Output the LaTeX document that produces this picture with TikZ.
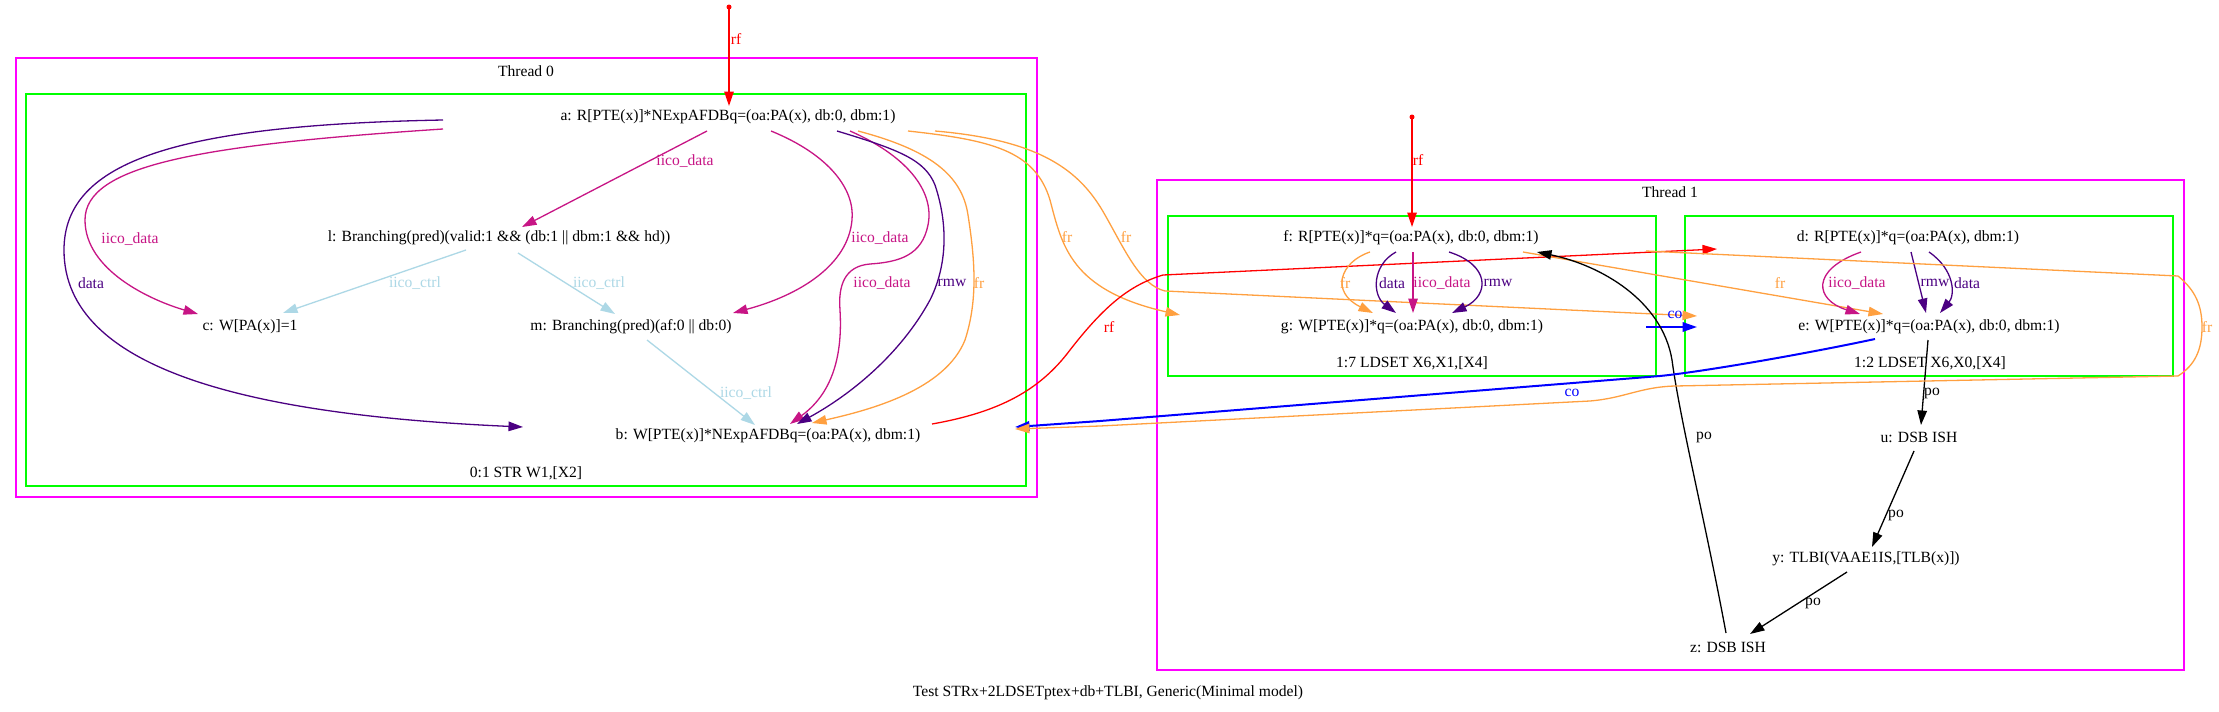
\documentclass[tikz,border=0pt]{standalone}
\usepackage{fontspec}
\setmainfont{Liberation Serif}
\usetikzlibrary{arrows.meta,calc}
\definecolor{ivr}{HTML}{C71585}
\definecolor{ind}{HTML}{4B0082}
\definecolor{frc}{HTML}{FFA040}
\definecolor{ltb}{HTML}{ADD8E6}
\definecolor{mag}{HTML}{FF00FF}
\definecolor{grn}{HTML}{00FF00}
\newcommand\fsz{\fontsize{15.6}{18}\selectfont}
\begin{document}
\begin{tikzpicture}[x=1pt,y=-1pt,
  txt/.style={font=\fsz, inner sep=0pt},
  edgebase/.style={line width=1.3pt, -{Triangle[length=14.5pt,width=9.5pt]}},
  erf/.style={edgebase, draw=red},
  eiicod/.style={edgebase, draw=ivr},
  edata/.style={edgebase, draw=ind},
  efr/.style={edgebase, draw=frc},
  ectrl/.style={edgebase, draw=ltb},
  eco/.style={edgebase, draw=blue, line width=2pt},
  epo/.style={edgebase, draw=black},
  magbox/.style={draw=mag, line width=1.3pt},
  grnbox/.style={draw=grn, line width=1.3pt},
  dotnode/.style={circle, fill=red, inner sep=0pt, minimum size=5pt}
]
\useasboundingbox (0,0) rectangle (2219,712);
\fill[white] (0,0) rectangle (2219,712);

% clusters
\draw[magbox] (16,58) rectangle (1037,497);
\draw[grnbox] (26,94) rectangle (1026,486);
\draw[magbox] (1157,180) rectangle (2184,670);
\draw[grnbox] (1168,216) rectangle (1656,376);
\draw[grnbox] (1685,216) rectangle (2173,376);
\node[txt] (t0) at (526,71) {Thread 0};
\node[txt] (t0s) at (526,473) {0:1 STR W1,[X2]};
\node[txt] (t1) at (1670,192) {Thread 1};
\node[txt] (t1a) at (1412,363) {1:7 LDSET X6,X1,[X4]};
\node[txt] (t1b) at (1930,363) {1:2 LDSET X6,X0,[X4]};
\node[txt] (cap) at (1108,693) {Test STRx+2LDSETptex+db+TLBI, Generic(Minimal model)};

% events
\node[txt] (a) at (728,117) {a: R[PTE(x)]*NExpAFDBq=(oa:PA(x), db:0, dbm:1)};
\node[txt] (l) at (499,238) {l: Branching(pred)(valid:1 \&\& (db:1 || dbm:1 \&\& hd))};
\node[txt] (c) at (250,327) {c: W[PA(x)]=1};
\node[txt] (m) at (631,327) {m: Branching(pred)(af:0 || db:0)};
\node[txt] (b) at (768,436) {b: W[PTE(x)]*NExpAFDBq=(oa:PA(x), dbm:1)};
\node[txt] (f) at (1411,238) {f: R[PTE(x)]*q=(oa:PA(x), db:0, dbm:1)};
\node[txt] (g) at (1412,327) {g: W[PTE(x)]*q=(oa:PA(x), db:0, dbm:1)};
\node[txt] (d) at (1908,238) {d: R[PTE(x)]*q=(oa:PA(x), dbm:1)};
\node[txt] (e) at (1929,327) {e: W[PTE(x)]*q=(oa:PA(x), db:0, dbm:1)};
\node[txt] (u) at (1919,437) {u: DSB ISH};
\node[txt] (y) at (1866,559) {y: TLBI(VAAE1IS,[TLB(x)])};
\node[txt] (z) at (1728,647) {z: DSB ISH};
\node[dotnode] (s0) at (729,7) {};
\node[dotnode] (s1) at (1412,117) {};

% thread 0 edges
\draw[erf] (s0.center) -- ($(a)+(1,-11)$);
\draw[eiicod] ($(a)+(-21,14)$) -- ($(l)+(23,-11)$);
\draw[eiicod] ($(a)+(-285,12)$) .. controls (200,145) and (85,165) .. (85,220)
   .. controls (85,270) and (150,300) .. ($(c)+(-52,-13)$);
\draw[edata] ($(a)+(-285,3)$) .. controls (180,125) and (64,160) .. (64,250)
   .. controls (64,370) and (250,415) .. ($(b)+(-245,-9)$);
\draw[ectrl] ($(l)+(-33,12)$) -- ($(c)+(33,-14)$);
\draw[ectrl] ($(l)+(19,15)$) -- ($(m)+(-16,-13)$);
\draw[ectrl] ($(m)+(16,13)$) -- ($(b)+(-13,-11)$);
\draw[eiicod] ($(a)+(43,14)$) .. controls (830,155) and (855,190) .. (852,220)
   .. controls (848,265) and (800,295) .. ($(m)+(102,-14)$);
\draw[eiicod] ($(a)+(122,14)$) .. controls (905,155) and (935,190) .. (928,225)
   .. controls (922,255) and (900,262) .. (870,264)
   .. controls (845,266) and (838,285) .. (840,310)
   .. controls (843,360) and (830,395) .. ($(b)+(22,-12)$);
\draw[edata] ($(a)+(109,14)$) .. controls (900,150) and (925,160) .. (935,185)
   .. controls (950,230) and (945,270) .. (930,300)
   .. controls (900,355) and (850,395) .. ($(b)+(29,-12)$);
\draw[efr] ($(a)+(130,14)$) .. controls (930,150) and (962,175) .. (968,215)
   .. controls (975,260) and (978,300) .. (965,340)
   .. controls (945,390) and (870,410) .. ($(b)+(44,-13)$);
\draw[efr] ($(a)+(180,14)$) .. controls (990,140) and (1035,150) .. (1050,200)
   .. controls (1062,245) and (1070,290) .. ($(g)+(-232,-12)$);
\draw[efr] ($(a)+(207,14)$) .. controls (1040,140) and (1080,170) .. (1105,215)
   .. controls (1125,250) and (1140,285) .. (1165,291) -- ($(e)+(-232,-11)$);
\draw[erf] ($(b)+(164,-12)$) .. controls (1000,412) and (1040,390) .. (1070,350)
   .. controls (1105,305) and (1130,285) .. (1163,275) -- ($(d)+(-191,11)$);

% thread 1 edges
\draw[erf] (s1.center) -- ($(f)+(1,-11)$);
\draw[efr] ($(f)+(-41,14)$) .. controls (1340,262) and (1330,292) .. ($(g)+(-39,-14)$);
\draw[edata] ($(f)+(-15,14)$) .. controls (1372,265) and (1372,295) .. ($(g)+(-16,-14)$);
\draw[eiicod] ($(f)+(2,14)$) -- ($(g)+(1,-14)$);
\draw[edata] ($(f)+(38,14)$) .. controls (1490,265) and (1490,295) .. ($(g)+(40,-14)$);
\draw[efr] ($(f)+(112,14)$) -- ($(e)+(-46,-13)$);
\draw[eco] ($(g)+(234,0)$) -- ($(e)+(-232,0)$);
\draw[eiicod] ($(d)+(-47,14)$) .. controls (1810,270) and (1815,300) .. ($(e)+(-69,-13)$);
\draw[edata] ($(d)+(3,14)$) -- ($(e)+(-3,-14)$);
\draw[edata] ($(d)+(21,14)$) .. controls (1955,270) and (1955,295) .. ($(e)+(11,-14)$);
\draw[epo] ($(e)+(-1,13)$) -- ($(u)+(2,-12)$);
\draw[epo] ($(u)+(-5,14)$) -- ($(y)+(6,-12)$);
\draw[epo] ($(y)+(-19,13)$) -- ($(z)+(22,-13)$);
\draw[epo] ($(z)+(-2,-14)$) .. controls (1705,520) and (1680,420) .. (1672,360)
   .. controls (1662,300) and (1600,265) .. ($(f)+(126,14)$);
\draw[eco] ($(e)+(-54,12)$) .. controls (1800,355) and (1700,372) .. (1660,376)
   -- (1100,421) -- ($(b)+(247,-9)$);
\draw[efr] ($(f)+(235,13)$) -- (2178,276) .. controls (2195,290) and (2202,305) .. (2202,327)
   .. controls (2202,350) and (2195,365) .. (2178,376) -- (1675,386)
   .. controls (1640,387) and (1625,398) .. (1590,401) -- (1100,426) -- ($(b)+(247,-7)$);

% edge labels
\node[txt, text=red] (L1) at (736,39) {rf};
\node[txt, text=ivr] (L2) at (685,161) {iico\_data};
\node[txt, text=ivr] (L3) at (130,239) {iico\_data};
\node[txt, text=ind] (L4) at (91,283) {data};
\node[txt, text=ltb] (L5) at (415,283) {iico\_ctrl};
\node[txt, text=ltb] (L6) at (599,283) {iico\_ctrl};
\node[txt, text=ltb] (L7) at (746,393) {iico\_ctrl};
\node[txt, text=ivr] (L8) at (880,238) {iico\_data};
\node[txt, text=ivr] (L9) at (882,283) {iico\_data};
\node[txt, text=ind] (L10) at (952,283) {rmw};
\node[txt, text=frc] (L11) at (979,283) {fr};
\node[txt, text=frc] (L12) at (1067,237) {fr};
\node[txt, text=frc] (L13) at (1126,237) {fr};
\node[txt, text=red] (L14) at (1109,327) {rf};
\node[txt, text=red] (L15) at (1418,160) {rf};
\node[txt, text=frc] (L16) at (1345,283) {fr};
\node[txt, text=ind] (L17) at (1392,283) {data};
\node[txt, text=ivr] (L18) at (1442,283) {iico\_data};
\node[txt, text=ind] (L19) at (1498,283) {rmw};
\node[txt, text=frc] (L20) at (1780,283) {fr};
\node[txt, text=blue] (L21) at (1675,315) {co};
\node[txt, text=ivr] (L22) at (1857,283) {iico\_data};
\node[txt, text=ind] (L23) at (1935,283) {rmw};
\node[txt, text=ind] (L24) at (1967,283) {data};
\node[txt] (L25) at (1932,393) {po};
\node[txt] (L26) at (1896,515) {po};
\node[txt] (L27) at (1813,603) {po};
\node[txt] (L28) at (1704,437) {po};
\node[txt, text=blue] (L29) at (1572,393) {co};
\node[txt, text=frc] (L30) at (2207,327) {fr};
\end{tikzpicture}
\end{document}
